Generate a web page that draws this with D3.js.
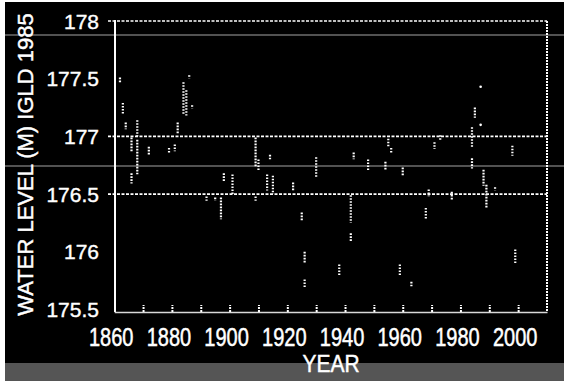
<!DOCTYPE html>
<html>
<head>
<meta charset="utf-8">
<script src="https://cdn.jsdelivr.net/npm/d3@7"></script>
<style>
  html, body { margin: 0; padding: 0; background: #000; overflow: hidden }
</style>
</head>
<body>
<div id="chart"></div>
<script>
const W = 564
const H = 381

// yearly ranges of water level (m, IGLD 1985)
const years = [1862, 1863, 1864, 1866, 1866, 1868, 1868, 1872, 1879, 1881, 1882, 1884, 1885, 1886, 1887,
  1892, 1895, 1897, 1897, 1898, 1901, 1909, 1909, 1910, 1913, 1914, 1915, 1922, 1925, 1926, 1926, 1930,
  1938, 1942, 1942, 1943, 1948, 1954, 1955, 1956, 1959, 1960, 1963, 1968, 1969, 1971, 1973, 1977,
  1984, 1984, 1985, 1987, 1987, 1988, 1989, 1992, 1998, 1999]
const highs = [177.51, 177.29, 177.12, 176.99, 176.68, 177.14, 176.97, 176.91, 176.90, 176.93, 177.12, 177.47, 177.40, 177.53, 177.27,
  176.48, 176.47, 176.47, 176.34, 176.68, 176.67, 176.99, 176.48, 176.80, 176.67, 176.84, 176.66, 176.60, 176.34, 176.00, 175.76, 176.82,
  175.89, 176.49, 176.16, 176.86, 176.80, 176.78, 176.98, 176.90, 175.89, 176.73, 175.74, 176.38, 176.54, 176.95, 177.01, 176.52,
  177.08, 176.81, 177.25, 177.43, 177.10, 176.71, 176.58, 176.56, 176.92, 176.02]
const lows = [177.47, 177.20, 177.07, 176.88, 176.60, 177.01, 176.68, 176.84, 176.86, 176.88, 177.03, 177.20, 177.19, 177.51, 177.25,
  176.45, 176.45, 176.36, 176.29, 176.62, 176.51, 176.75, 176.45, 176.71, 176.54, 176.81, 176.51, 176.54, 176.28, 175.91, 175.69, 176.65,
  175.80, 176.26, 176.10, 176.81, 176.71, 176.71, 176.91, 176.86, 175.80, 176.67, 175.71, 176.29, 176.49, 176.90, 176.97, 176.45,
  176.91, 176.73, 177.17, 177.43, 177.10, 176.58, 176.39, 176.54, 176.84, 175.91]

const yTicks = [175.5, 176, 176.5, 177, 177.5, 178]
const xLabels = [1860, 1880, 1900, 1920, 1940, 1960, 1980, 2000]
const xDecades = [1870, 1880, 1890, 1900, 1910, 1920, 1930, 1940, 1950, 1960, 1970, 1980, 1990, 2000]
const gridLevels = [178, 177, 176.5]

const FONT = '"Liberation Sans", Arial, sans-serif'

const x = d3.scaleLinear().domain([1860, 2010]).range([114.2, 547])
const y = d3.scaleLinear().domain([175.5, 178]).range([309.5, 21])
const bottomY = y(175.5) + 2.5

const svg = d3.select('#chart')
  .append('svg')
  .attr('width', W)
  .attr('height', H)
  .style('display', 'block')

// scan background
svg.append('rect').attr('width', W).attr('height', H).attr('fill', '#000')
svg.append('rect').attr('x', 0).attr('y', 363).attr('width', W).attr('height', H - 363).attr('fill', '#555')
svg.append('rect').attr('x', 0).attr('y', 0).attr('width', 5).attr('height', H).attr('fill', '#fff')
svg.append('rect').attr('x', 0).attr('y', 0).attr('width', W).attr('height', 2).attr('fill', '#fff')

// scanner streaks
;[35, 166].forEach((sy) => {
  svg.append('line')
    .attr('x1', 5).attr('x2', W)
    .attr('y1', sy).attr('y2', sy)
    .attr('stroke', '#6e6e6e')
    .attr('stroke-width', 1.5)
})

// dotted grid lines
svg.append('g')
  .selectAll('line')
  .data(gridLevels)
  .join('line')
  .attr('x1', 108)
  .attr('x2', x(2010))
  .attr('y1', (d) => y(d))
  .attr('y2', (d) => y(d))
  .attr('stroke', '#fff')
  .attr('stroke-width', 1.6)
  .attr('stroke-dasharray', '3,1.5')

// right frame
svg.append('line')
  .attr('x1', x(2010)).attr('x2', x(2010))
  .attr('y1', y(178)).attr('y2', bottomY)
  .attr('stroke', '#fff')
  .attr('stroke-width', 2)
  .attr('stroke-dasharray', '2,1')

// left axis
svg.append('line')
  .attr('x1', 115).attr('x2', 115)
  .attr('y1', y(178) - 1).attr('y2', bottomY)
  .attr('stroke', '#fff')
  .attr('stroke-width', 2)

// bottom axis with inward decade ticks
const xAxis = svg.append('g')
  .attr('transform', `translate(0,${bottomY})`)
  .call(d3.axisBottom(x).tickValues(xDecades).tickSize(-7).tickSizeOuter(0).tickFormat(''))
xAxis.select('.domain').attr('stroke', '#d8d8d8').attr('stroke-width', 1.5)
xAxis.selectAll('.tick line').attr('stroke', '#fff').attr('stroke-width', 2).attr('stroke-dasharray', '2,1')

// x tick labels
svg.append('g')
  .selectAll('text')
  .data(xLabels)
  .join('text')
  .attr('transform', (d) => `translate(${x(d) - 3},346) scale(1,1.28)`)
  .attr('text-anchor', 'middle')
  .attr('font-family', FONT)
  .attr('font-size', 20)
  .attr('fill', '#fff')
  .attr('stroke', '#fff')
  .attr('stroke-width', 0.4)
  .text((d) => d)

// y tick labels
svg.append('g')
  .selectAll('text')
  .data(yTicks)
  .join('text')
  .attr('x', 99)
  .attr('y', (d) => y(d))
  .attr('dy', '0.36em')
  .attr('text-anchor', 'end')
  .attr('font-family', FONT)
  .attr('font-size', 21)
  .attr('fill', '#fff')
  .attr('stroke', '#fff')
  .attr('stroke-width', 0.4)
  .text((d) => d)

// axis titles
svg.append('text')
  .attr('transform', 'translate(33,164.5) rotate(-90)')
  .attr('text-anchor', 'middle')
  .attr('font-family', FONT)
  .attr('font-size', 22)
  .attr('fill', '#fff')
  .attr('stroke', '#fff')
  .attr('stroke-width', 0.4)
  .text('WATER LEVEL (M) IGLD 1985')

svg.append('text')
  .attr('transform', 'translate(331,372) scale(1,1.1)')
  .attr('text-anchor', 'middle')
  .attr('font-family', FONT)
  .attr('font-size', 21)
  .attr('fill', '#fff')
  .attr('stroke', '#fff')
  .attr('stroke-width', 0.4)
  .text('YEAR')

// data: dotted vertical strips per year
const idx = d3.range(years.length)
svg.append('g')
  .selectAll('line')
  .data(idx.filter((i) => highs[i] !== lows[i]))
  .join('line')
  .attr('x1', (i) => x(years[i]))
  .attr('x2', (i) => x(years[i]))
  .attr('y1', (i) => y(highs[i]))
  .attr('y2', (i) => y(lows[i]) + 1)
  .attr('stroke', '#fff')
  .attr('stroke-width', 2.2)
  .attr('stroke-dasharray', '1.6,1.4')

svg.append('g')
  .selectAll('circle')
  .data(idx.filter((i) => highs[i] === lows[i]))
  .join('circle')
  .attr('cx', (i) => x(years[i]))
  .attr('cy', (i) => y(highs[i]))
  .attr('r', 1.3)
  .attr('fill', '#fff')
</script>
</body>
</html>
